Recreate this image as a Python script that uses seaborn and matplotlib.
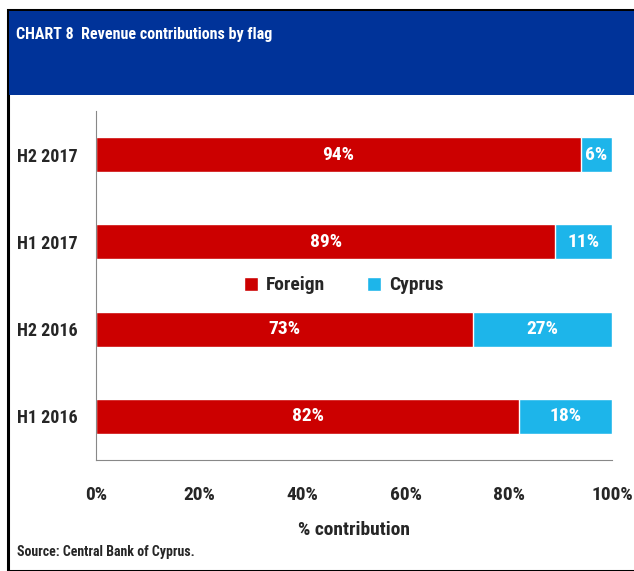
import matplotlib
matplotlib.use("Agg")
import matplotlib.pyplot as plt
from matplotlib import font_manager
from matplotlib.patches import Rectangle
import seaborn as sns
import pandas as pd

periods = ["H2 2017", "H1 2017", "H2 2016", "H1 2016"]
foreign = [94, 89, 73, 82]
cyprus = [6, 11, 27, 18]
xticks = [0, 20, 40, 60, 80, 100]

RED = "#CC0000"
CYAN = "#1DB5EA"
NAVY = "#003399"

sns.set_theme(style="white")
names = {f.name for f in font_manager.fontManager.ttflist}
fam = "DejaVu Sans"
for cand in ["Liberation Sans Narrow", "Roboto Condensed", "Open Sans Condensed", "Lato"]:
    if cand in names:
        fam = cand
        break
plt.rcParams["font.family"] = [fam, "DejaVu Sans"]

df = pd.DataFrame({"period": periods, "foreign": foreign, "cyprus": cyprus})
df["total"] = df["foreign"] + df["cyprus"]

fig = plt.figure(figsize=(6.34, 5.71), dpi=100)
W, H = 634, 571

# frame + header band
fig.patches.append(Rectangle((8 / W, 0), 1, (H - 10) / H, transform=fig.transFigure,
                             facecolor="none", edgecolor="black", linewidth=2.2))
fig.patches.append(Rectangle((9 / W, (H - 95) / H), 1, 84 / H, transform=fig.transFigure,
                             facecolor=NAVY, edgecolor="none"))
fig.text(16 / W, 1 - 34 / H, "CHART 8  Revenue contributions by flag", color="white",
         fontsize=11.5, fontweight="bold", va="center", ha="left")

ax = fig.add_axes([96 / W, 1 - 460 / H, (612 - 96) / W, (460 - 111) / H])
sns.barplot(data=df, y="period", x="total", color=CYAN, orient="h", width=0.4,
            order=periods, ax=ax, label="Cyprus", saturation=1)
sns.barplot(data=df, y="period", x="foreign", color=RED, orient="h", width=0.4,
            order=periods, ax=ax, label="Foreign", saturation=1)

for i, (f, c) in enumerate(zip(foreign, cyprus)):
    ax.text(f / 2, i, f"{f}%", color="white", fontsize=14, fontweight="bold",
            ha="center", va="center")
    ax.text(f + c / 2, i, f"{c}%", color="white", fontsize=14, fontweight="bold",
            ha="center", va="center")

ax.set_xlim(0, 100)
ax.set_ylim(3.5, -0.5)
ax.set_xticks(xticks)
ax.set_xticklabels([f"{t}%" for t in xticks], fontsize=14, fontweight="bold")
ax.set_yticks(range(len(periods)))
ax.set_yticklabels(periods, fontsize=13, fontweight="bold")
ax.set_yticks([-0.5 + k for k in range(5)], minor=True)
ax.tick_params(axis="y", which="major", length=0, pad=13)
ax.tick_params(axis="y", which="minor", length=5, color="#888888", direction="out")
ax.tick_params(axis="x", length=5, color="#888888", direction="out", pad=14)
ax.set_xlabel("% contribution", fontsize=14, fontweight="bold", labelpad=12)
ax.set_ylabel("")
for s in ["top", "right"]:
    ax.spines[s].set_visible(False)
for s in ["left", "bottom"]:
    ax.spines[s].set_color("#888888")
    ax.spines[s].set_linewidth(0.8)

handles, labels = ax.get_legend_handles_labels()
order = [labels.index("Foreign"), labels.index("Cyprus")]
ax.legend([handles[k] for k in order], ["Foreign", "Cyprus"], loc="center",
          bbox_to_anchor=(0.48, 0.5), ncol=2, frameon=False,
          prop={"weight": "bold", "size": 14}, handlelength=0.7, handleheight=0.7,
          columnspacing=2.2, handletextpad=0.4)

fig.text(17 / W, 1 - 552 / H, "Source: Central Bank of Cyprus.", fontsize=10,
         fontweight="bold", va="center", ha="left")

fig.savefig("out.png", dpi=100)
